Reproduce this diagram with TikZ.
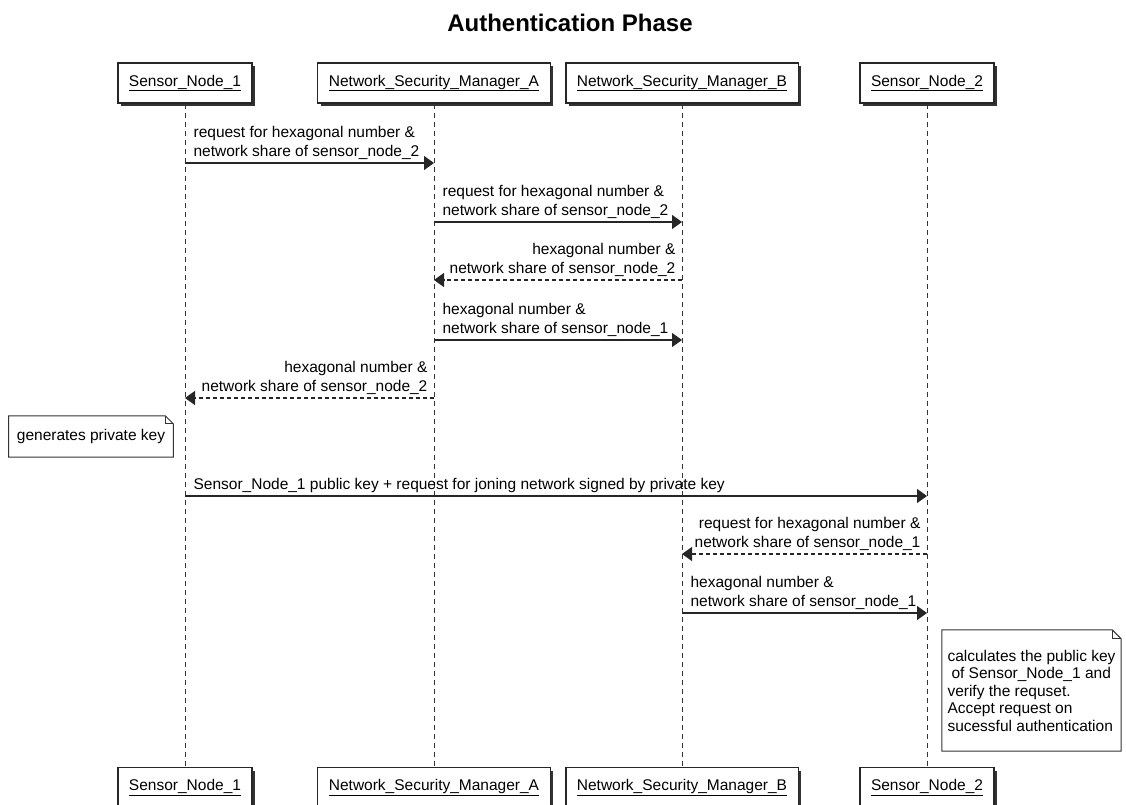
\documentclass[tikz,border=0pt]{standalone}
\usepackage{fontspec}
\setmainfont{Liberation Sans}
\usetikzlibrary{arrows.meta,positioning,shadows}

\begin{document}
\begin{tikzpicture}[
  x=1pt, y=-1pt,
  every node/.style={font=\fontsize{15.5}{19}\selectfont},
  actor/.style={draw=black!85, line width=1.2pt, fill=white, minimum height=40pt, inner xsep=11pt,
    drop shadow={shadow xshift=3pt, shadow yshift=-3pt, fill=black!80, opacity=1}},
  life/.style={draw=black!80, line width=0.9pt, dash pattern=on 5pt off 4pt},
  msg/.style={-{Triangle[length=10pt, width=14pt]}, line width=1.2pt, draw=black!85},
  reply/.style={msg, dash pattern=on 4pt off 3pt},
  lbl/.style={inner sep=0pt, align=left, anchor=south west, xshift=8pt, yshift=3pt},
  rlbl/.style={inner sep=0pt, align=right, anchor=south east, xshift=-6pt, yshift=3pt},
  notetext/.style={inner xsep=8pt, inner ysep=0pt, align=left},
  noteline/.style={draw=black!80, line width=1pt, fill=white},
]
\clip (0,0) rectangle (1126,805);

\node[font=\fontsize{24}{26}\selectfont\bfseries] (title) at (570,23) {Authentication Phase};

% participants
\node[actor] (sn1) at (185,83) {\underline{Sensor\_Node\_1}};
\node[actor] (nsma) at (434,83) {\underline{Network\_Security\_Manager\_A}};
\node[actor] (nsmb) at (682,83) {\underline{Network\_Security\_Manager\_B}};
\node[actor] (sn2) at (927,83) {\underline{Sensor\_Node\_2}};

\node[actor] (sn1b) at (185,787.5) {\underline{Sensor\_Node\_1}};
\node[actor] (nsmab) at (434,787.5) {\underline{Network\_Security\_Manager\_A}};
\node[actor] (nsmbb) at (682,787.5) {\underline{Network\_Security\_Manager\_B}};
\node[actor] (sn2b) at (927,787.5) {\underline{Sensor\_Node\_2}};

% lifelines
\draw[life] (sn1) -- (sn1b);
\draw[life] (nsma) -- (nsmab);
\draw[life] (nsmb) -- (nsmbb);
\draw[life] (sn2) -- (sn2b);

% message rows
\coordinate (r1) at (0,163);
\coordinate (r2) at (0,222);
\coordinate (r3) at (0,280);
\coordinate (r4) at (0,340);
\coordinate (r5) at (0,398);
\coordinate (r6) at (0,496);
\coordinate (r7) at (0,554);
\coordinate (r8) at (0,613);

\draw[msg] (sn1 |- r1) -- (nsma |- r1)
  node[lbl, pos=0] {request for hexagonal number \&\\network share of sensor\_node\_2};
\draw[msg] (nsma |- r2) -- (nsmb |- r2)
  node[lbl, pos=0] {request for hexagonal number \&\\network share of sensor\_node\_2};
\draw[reply] (nsmb |- r3) -- (nsma |- r3)
  node[rlbl, pos=0] {hexagonal number \&\\network share of sensor\_node\_2};
\draw[msg] (nsma |- r4) -- (nsmb |- r4)
  node[lbl, pos=0] {hexagonal number \&\\network share of sensor\_node\_1};
\draw[reply] (nsma |- r5) -- (sn1 |- r5)
  node[rlbl, pos=0] {hexagonal number \&\\network share of sensor\_node\_2};

% note on Sensor_Node_1
\node[notetext, minimum height=41pt] (gen) at (91,436.5) {generates private key};
\draw[noteline] (gen.south west) -- (gen.north west) -- ([xshift=-8pt]gen.north east)
  -- ([yshift=-8pt]gen.north east) -- (gen.south east) -- cycle;
\draw[noteline, fill=none] ([xshift=-8pt]gen.north east) |- ([yshift=-8pt]gen.north east);
\node[notetext, minimum height=41pt] at (gen) {generates private key};

\draw[msg] (sn1 |- r6) -- (sn2 |- r6)
  node[lbl, pos=0] {Sensor\_Node\_1 public key + request for joning network signed by private key};
\draw[reply] (sn2 |- r7) -- (nsmb |- r7)
  node[rlbl, pos=0] {request for hexagonal number \&\\network share of sensor\_node\_1};
\draw[msg] (nsmb |- r8) -- (sn2 |- r8)
  node[lbl, pos=0] {hexagonal number \&\\network share of sensor\_node\_1};

% note on Sensor_Node_2
\node[notetext, inner xsep=0pt, minimum width=179pt, minimum height=121pt,
  font=\fontsize{15.5}{17.5}\selectfont] (calc) at (1031.5,690.5)
  {calculates the public key\\\hspace*{4pt}of Sensor\_Node\_1 and\\verify the requset.\\Accept request on\\sucessful authentication};
\draw[noteline] (calc.south west) -- (calc.north west) -- ([xshift=-9pt]calc.north east)
  -- ([yshift=-9pt]calc.north east) -- (calc.south east) -- cycle;
\draw[noteline, fill=none] ([xshift=-9pt]calc.north east) |- ([yshift=-9pt]calc.north east);
\node[notetext, inner xsep=0pt, minimum width=179pt, minimum height=121pt,
  font=\fontsize{15.5}{17.5}\selectfont] at (calc)
  {calculates the public key\\\hspace*{4pt}of Sensor\_Node\_1 and\\verify the requset.\\Accept request on\\sucessful authentication};
\end{tikzpicture}
\end{document}
